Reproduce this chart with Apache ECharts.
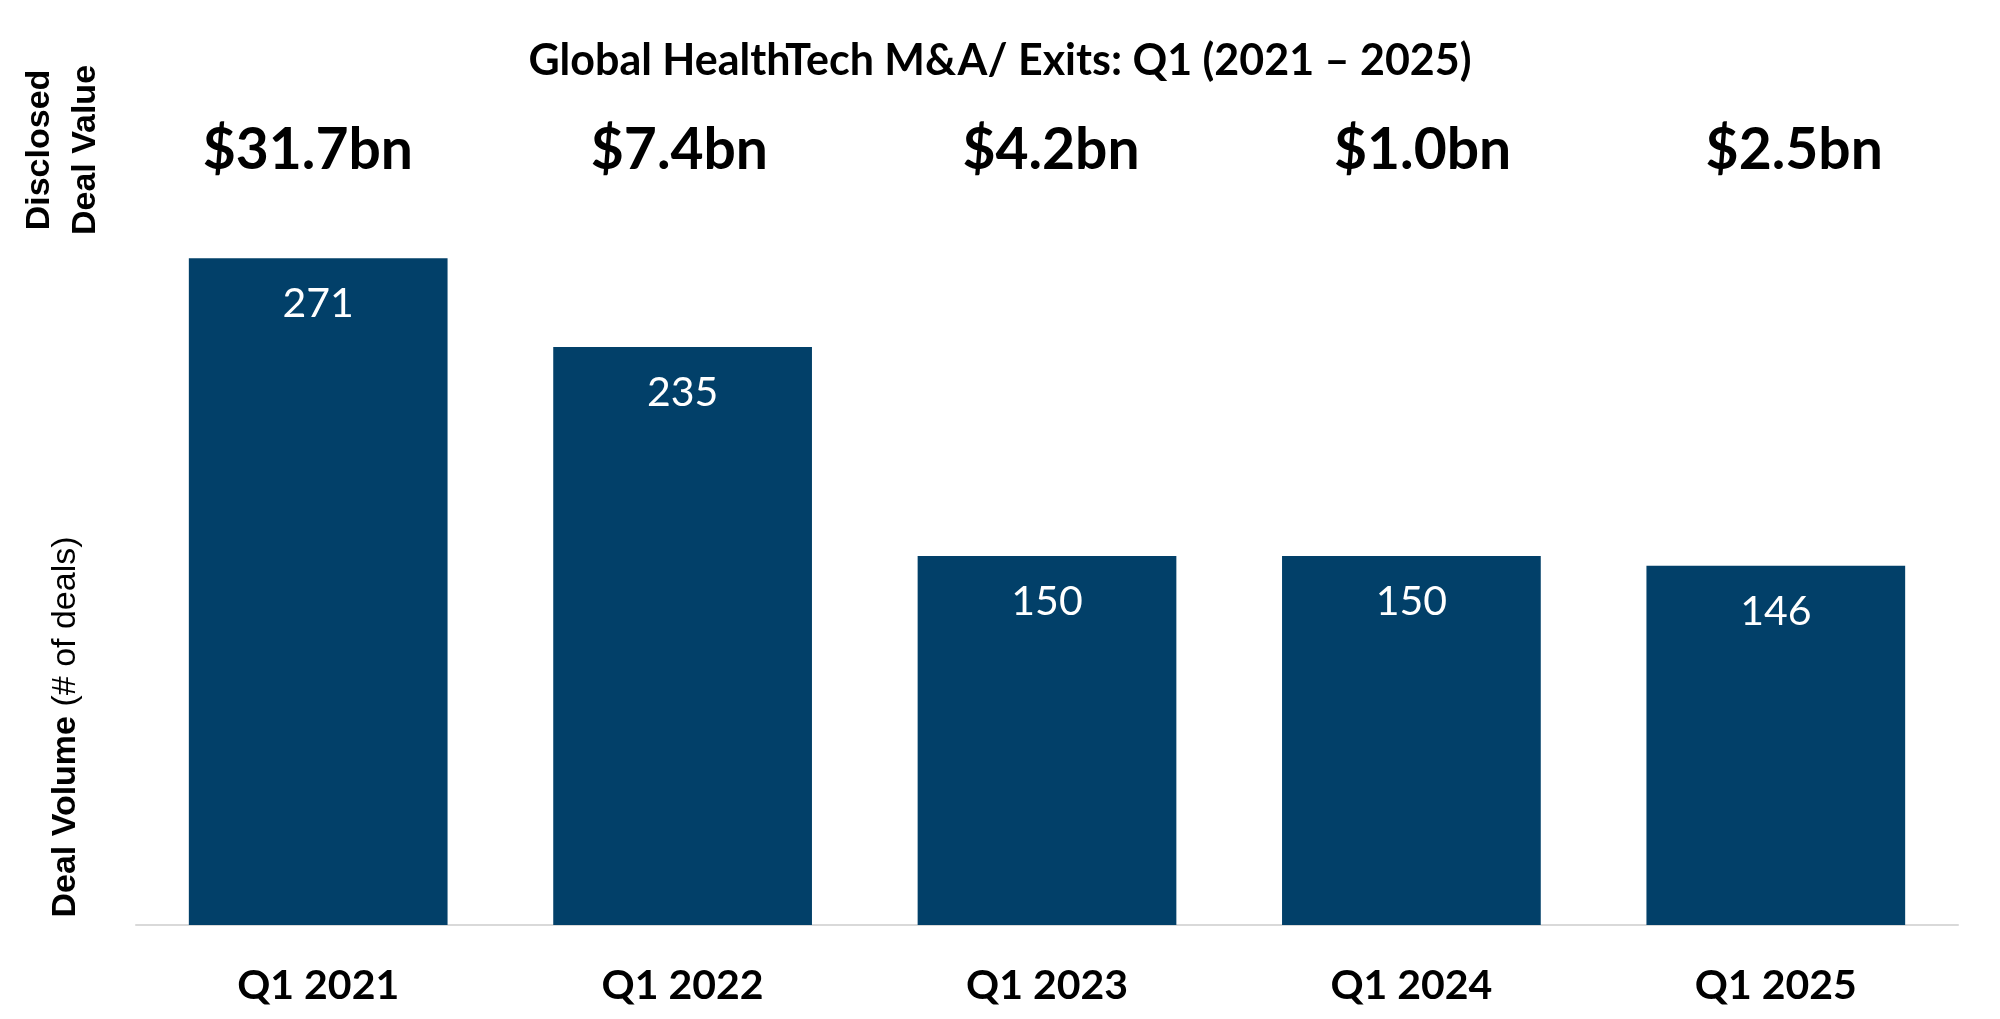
<!DOCTYPE html>
<html>
<head>
<meta charset="utf-8">
<script src="https://cdn.jsdelivr.net/npm/echarts@6/dist/echarts.min.js"></script>
<style>
  html, body { margin: 0; padding: 0; background: #fff; }
  #chart { width: 2000px; height: 1019px; }
</style>
</head>
<body>
<div id="chart"></div>
<script>
// data
var quarters = ['Q1 2021', 'Q1 2022', 'Q1 2023', 'Q1 2024', 'Q1 2025'];
var dealCount = [271, 235, 150, 150, 146];
var dealValue = ['$31.7bn', '$7.4bn', '$4.2bn', '$1.0bn', '$2.5bn'];

var navy = '#024069';
var font = 'Lato';

var chart = echarts.init(document.getElementById('chart'));

var option = {
  backgroundColor: '#fff',
  animation: false,
  title: {
    text: 'Global HealthTech M&A/ Exits: Q1 (2021 \u2013 2025)',
    left: 'center',
    top: 35,
    textStyle: { fontFamily: font, fontWeight: 'bold', fontSize: 43, color: '#000' }
  },
  grid: [
    { left: 136, right: 42, top: 187, bottom: 94 },
    // the deal value row is spaced a little wider than the bars
    { left: 122, right: 20, top: 187, height: 10 }
  ],
  xAxis: [
    {
      type: 'category',
      data: quarters,
      axisLine: { lineStyle: { color: '#d9d9d9', width: 2 } },
      axisTick: { show: false },
      axisLabel: { margin: 40, fontFamily: font, fontWeight: 'bold', fontSize: 41, color: '#000' }
    },
    {
      type: 'category',
      gridIndex: 1,
      position: 'top',
      data: dealValue,
      axisLine: { show: false },
      axisTick: { show: false },
      axisLabel: { margin: 8, fontFamily: font, fontWeight: 'bold', fontSize: 57, color: '#000' }
    }
  ],
  yAxis: [
    { type: 'value', min: 0, max: 300, show: false, splitLine: { show: false } },
    { type: 'value', gridIndex: 1, show: false, splitLine: { show: false } }
  ],
  series: [
    {
      type: 'bar',
      data: dealCount,
      barCategoryGap: '29%',
      itemStyle: { color: navy },
      label: {
        show: true,
        position: 'insideTop',
        distance: 25,
        fontFamily: font,
        fontSize: 41,
        color: '#fff'
      }
    }
  ],
  graphic: [
    {
      type: 'text',
      x: 63,
      y: 150,
      rotation: Math.PI / 2,
      style: {
        text: 'Disclosed\nDeal Value',
        font: 'bold 34px "Liberation Sans", Arial, sans-serif',
        lineHeight: 46,
        fill: '#000',
        align: 'center',
        verticalAlign: 'middle'
      }
    },
    {
      type: 'text',
      x: 66,
      y: 727,
      rotation: Math.PI / 2,
      style: {
        text: '{b|Deal Volume }{r|(# of deals)}',
        align: 'center',
        verticalAlign: 'middle',
        rich: {
          b: { fontFamily: 'Liberation Sans', fontWeight: 'bold', fontSize: 34, fill: '#000', color: '#000' },
          r: { fontFamily: 'Liberation Sans', fontSize: 34, fill: '#000', color: '#000' }
        }
      }
    }
  ]
};

chart.setOption(option);
</script>
</body>
</html>
